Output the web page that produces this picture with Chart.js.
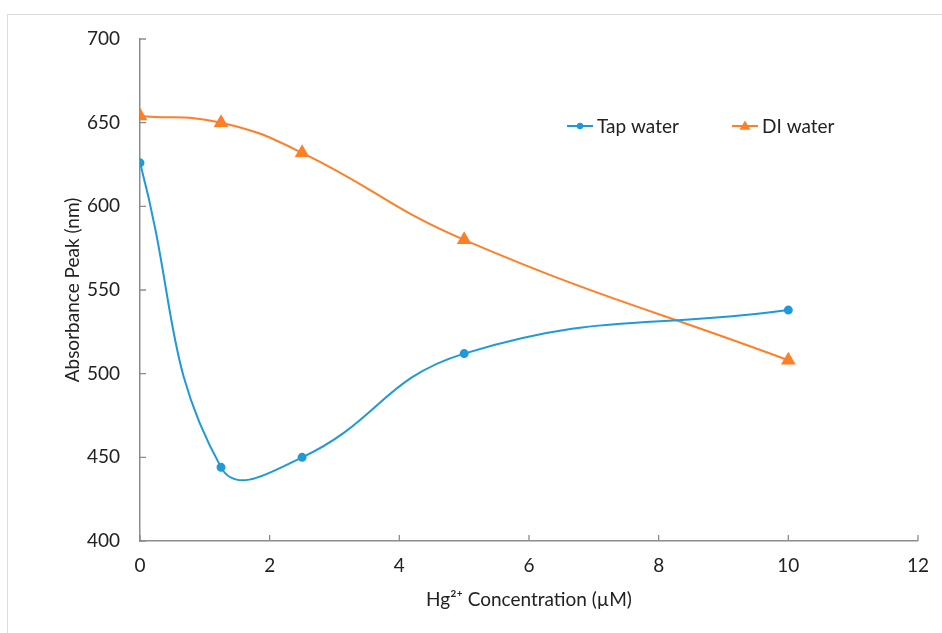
<!DOCTYPE html>
<html>
<head>
<meta charset="utf-8">
<script src="https://cdn.jsdelivr.net/npm/chart.js@4.4.1/dist/chart.umd.min.js"></script>
<style>
  html, body { margin: 0; padding: 0; background: #fff; }
  #wrap { width: 942px; height: 633px; position: relative; }
</style>
</head>
<body>
<div id="wrap"><canvas id="chart" width="942" height="633"></canvas></div>
<script>
// concentração de Hg2+ (µM) e pico de absorbância (nm)
const conc = [0, 1.25, 2.5, 5, 10];
const tapWater = [626, 444, 450, 512, 538];
const diWater = [654, 650, 632, 580, 508];
const xTicks = [0, 2, 4, 6, 8, 10, 12];
const yTicks = [400, 450, 500, 550, 600, 650, 700];

const BLUE = "#1f9ad8", ORANGE = "#ff7f27", AXIS = "#8c8c8c", TXT = "#222";
const FONT = "Lato, 'Open Sans', sans-serif";
const FS = 19;
const pts = (ys) => conc.map((x, i) => ({ x, y: ys[i] }));

// moldura cinza clara em volta do gráfico
const frame = {
  id: "frame",
  beforeDraw(chart) {
    const c = chart.ctx;
    c.save();
    c.strokeStyle = "#dcdcdc"; c.lineWidth = 1;
    c.strokeRect(7.5, 14.5, 1000, 1000);
    c.restore();
  },
};

// marcas de escala voltadas para dentro (estilo Excel)
const innerTicks = {
  id: "innerTicks",
  afterDraw(chart) {
    const { ctx: c, scales: { x, y } } = chart;
    c.save();
    c.strokeStyle = AXIS; c.lineWidth = 1.3;
    c.beginPath();
    xTicks.forEach((v) => { const px = x.getPixelForValue(v); c.moveTo(px, y.bottom); c.lineTo(px, y.bottom - 6); });
    yTicks.forEach((v) => { const py = y.getPixelForValue(v); c.moveTo(x.left, py); c.lineTo(x.left + 6, py); });
    c.stroke();
    c.restore();
  },
};

// legenda desenhada dentro da área do gráfico
const inLegend = {
  id: "inLegend",
  afterDraw(chart) {
    const c = chart.ctx;
    const items = [
      { ds: chart.data.datasets[0], x: 567 },
      { ds: chart.data.datasets[1], x: 732 },
    ];
    const yy = 126;
    c.save();
    c.font = `${FS}px ${FONT}`;
    c.textBaseline = "middle";
    items.forEach(({ ds, x }) => {
      c.strokeStyle = ds.borderColor; c.lineWidth = 2;
      c.beginPath(); c.moveTo(x, yy); c.lineTo(x + 26, yy); c.stroke();
      c.fillStyle = ds.borderColor;
      c.beginPath();
      if (ds.pointStyle === "triangle") {
        const r = 5.5, cx = x + 13;
        c.moveTo(cx, yy - r); c.lineTo(cx + r, yy + r * 0.7); c.lineTo(cx - r, yy + r * 0.7); c.closePath();
      } else {
        c.arc(x + 13, yy, 3.2, 0, Math.PI * 2);
      }
      c.fill();
      c.fillStyle = TXT;
      c.fillText(ds.label, x + 30, yy + 1);
    });
    c.restore();
  },
};

new Chart(document.getElementById("chart"), {
  type: "line",
  data: {
    datasets: [
      { label: "Tap water", data: pts(tapWater), borderColor: BLUE, backgroundColor: BLUE,
        pointStyle: "circle", pointRadius: 3.5, borderWidth: 2, tension: 0.45 },
      { label: "DI water", data: pts(diWater), borderColor: ORANGE, backgroundColor: ORANGE,
        pointStyle: "triangle", pointRadius: 6.5, borderWidth: 2, tension: 0.45 },
    ],
  },
  options: {
    responsive: false, animation: false, devicePixelRatio: 1,
    layout: { padding: { left: 0, top: 39, right: 24, bottom: 0 } },
    plugins: { legend: { display: false }, tooltip: { enabled: false } },
    scales: {
      x: {
        type: "linear", min: 0, max: 12,
        afterBuildTicks: (s) => { s.ticks = xTicks.map((v) => ({ value: v })); },
        afterFit: (s) => { s.height = 92; },
        grid: { display: false, drawTicks: false, tickLength: 0 },
        border: { color: AXIS, width: 1.5 },
        ticks: { color: TXT, font: { family: FONT, size: FS }, padding: 13, maxRotation: 0 },
        title: { display: true, text: "Hg²⁺ Concentration (µM)", color: TXT,
          font: { family: FONT, size: FS }, padding: { top: 4, bottom: 22 } },
      },
      y: {
        min: 400, max: 700,
        afterBuildTicks: (s) => { s.ticks = yTicks.map((v) => ({ value: v })); },
        afterFit: (s) => { s.width = 140; },
        grid: { display: false, drawTicks: false, tickLength: 0 },
        border: { color: AXIS, width: 1.5 },
        ticks: { color: TXT, font: { family: FONT, size: FS }, padding: 20 },
        title: { display: true, text: "Absorbance Peak (nm)", color: TXT,
          font: { family: FONT, size: FS }, padding: { top: 61, bottom: 4 } },
      },
    },
  },
  plugins: [frame, innerTicks, inLegend],
});
</script>
</body>
</html>
